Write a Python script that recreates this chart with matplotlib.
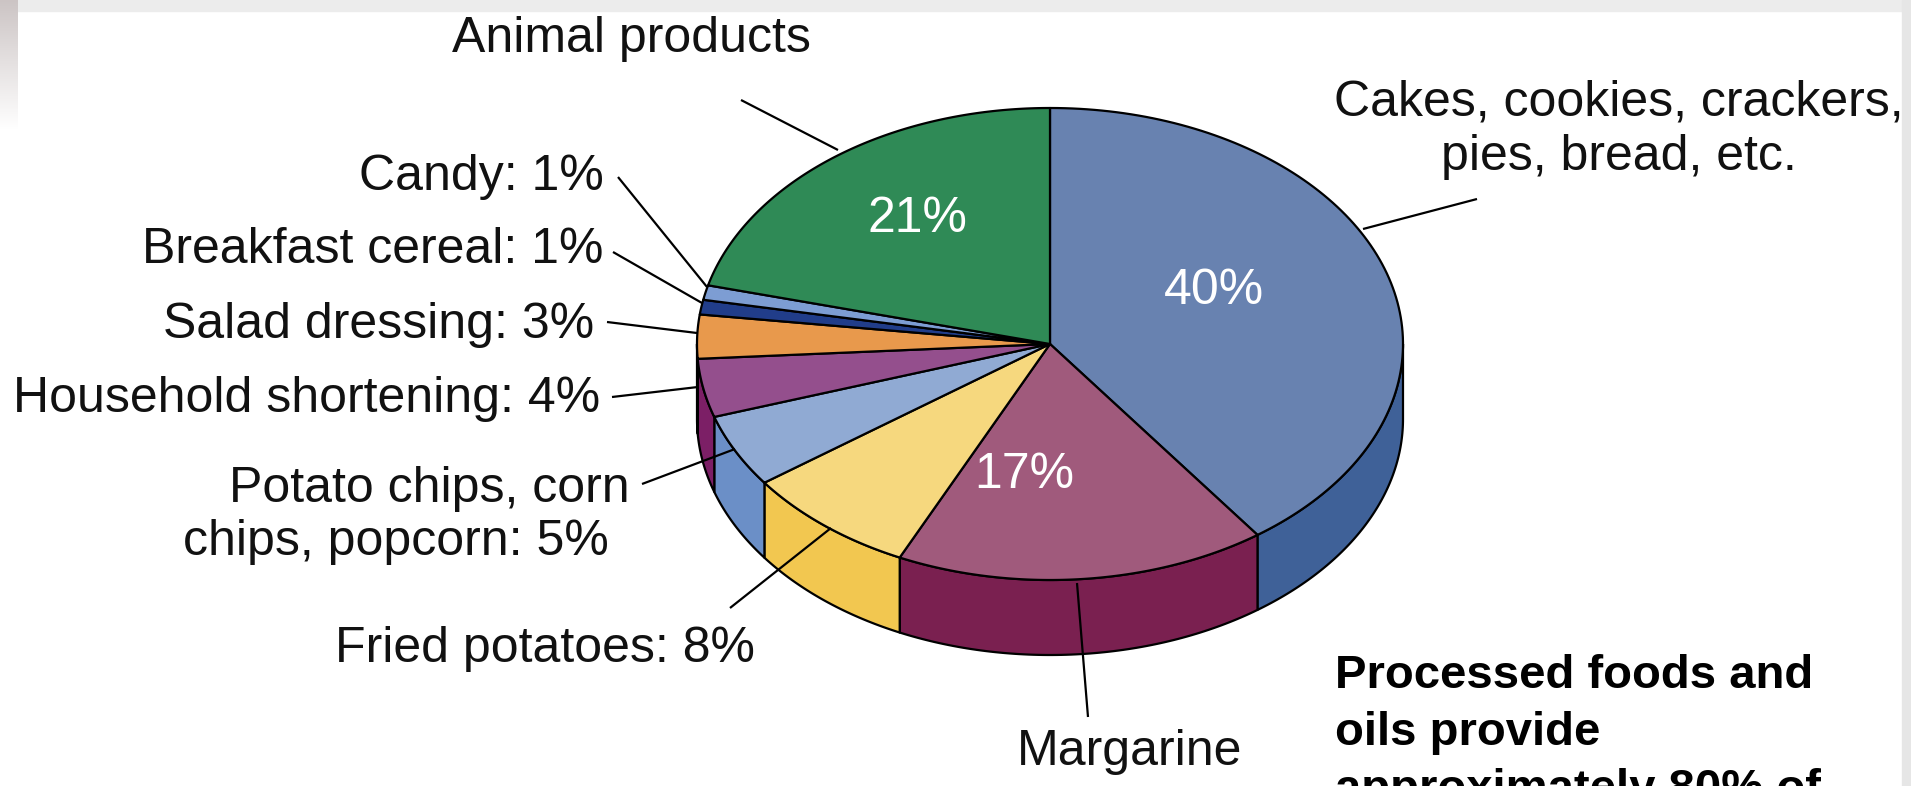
import numpy as np
import matplotlib
matplotlib.use("Agg")
import matplotlib.pyplot as plt
from matplotlib.patches import Polygon, Rectangle

plt.rcParams['font.family'] = ['Liberation Sans', 'DejaVu Sans']

# slices, clockwise from 12 o'clock
labels = ["Cakes, cookies, crackers,\npies, bread, etc.", "Margarine", "Fried potatoes: 8%",
          "Potato chips, corn\nchips, popcorn: 5%", "Household shortening: 4%",
          "Salad dressing: 3%", "Breakfast cereal: 1%", "Candy: 1%", "Animal products"]
values = [40, 17, 8, 5, 4, 3, 1, 1, 21]
top_colors = ["#6882b0", "#a05a7c", "#f6d87e", "#90aad3", "#944f8d",
              "#e8994c", "#213d8a", "#7d9dd3", "#2f8a56"]
side_colors = ["#3f6198", "#7a2050", "#f2c750", "#6b8fc7", "#7c1f66",
               "#cf7a30", "#16296a", "#5a7cb8", "#1f6a40"]
inner_pcts = ["40%", "17%", None, None, None, None, None, None, "21%"]

W, H = 1911, 786
fig = plt.figure(figsize=(W / 100, H / 100), dpi=100)
ax = fig.add_axes([0, 0, 1, 1])
ax.set_xlim(0, W)
ax.set_ylim(H, 0)
ax.axis('off')

# slide frame bits
ax.add_patch(Rectangle((0, 0), W, 11, color="#ececec", zorder=0))
ax.add_patch(Rectangle((W - 9, 0), 9, H, color="#e6e6e6", zorder=0))
grad = np.linspace(0, 1, 100)[:, None]
ax.imshow(np.dstack([0.80 + 0.2 * grad, 0.77 + 0.23 * grad, 0.77 + 0.23 * grad]),
          extent=(0, 18, 130, 0), aspect='auto', zorder=0)

cx, cy, rx, ry, depth = 1050, 344, 353, 236, 75


def pt(theta):
    t = np.radians(theta)
    return cx + rx * np.cos(t), cy - ry * np.sin(t)


angles = 90 - np.concatenate([[0], np.cumsum(values)]) * 3.6

# side walls (front half only)
for i in range(len(values)):
    a0, a1 = angles[i + 1], angles[i]
    lo, hi = max(a0, -180), min(a1, 0)
    if hi <= lo:
        continue
    th = np.linspace(lo, hi, 80)
    xs, ys = pt(th)
    poly = np.vstack([np.column_stack([xs, ys]),
                      np.column_stack([xs[::-1], ys[::-1] + depth])])
    ax.add_patch(Polygon(poly, closed=True, facecolor=side_colors[i],
                         edgecolor="black", lw=1.6, zorder=2, joinstyle='round'))

# top surface
for i in range(len(values)):
    th = np.linspace(angles[i + 1], angles[i], 120)
    xs, ys = pt(th)
    poly = np.vstack([[cx, cy], np.column_stack([xs, ys])])
    ax.add_patch(Polygon(poly, closed=True, facecolor=top_colors[i],
                         edgecolor="black", lw=1.6, zorder=3, joinstyle='round'))

fs = 36
# percentages inside
pct_pos = {0: (1214, 291), 1: (1024, 475), 8: (917, 219)}
for i, (x, y) in pct_pos.items():
    ax.text(x, y, inner_pcts[i], color="white", fontsize=fs, ha='center', va='center', zorder=5)

# outside labels: (text x, baseline y, ha, leader start, leader end)
label_pos = [
    (1619, 115, 'center', (1363, 229), (1477, 199)),
    (1130, 765, 'center', (1077, 583), (1088, 717)),
    (335, 662, 'left', (831, 528), (730, 608)),
    (None, None, None, (735, 449), (642, 484)),
    (600, 412, 'right', (698, 387), (612, 397)),
    (594, 338, 'right', (697, 333), (607, 322)),
    (603, 263, 'right', (702, 303), (613, 252)),
    (604, 190, 'right', (707, 287), (618, 177)),
    (631, 52, 'center', (838, 150), (741, 100)),
]
for i, (x, y, ha, p0, p1) in enumerate(label_pos):
    ax.plot([p0[0], p1[0]], [p0[1], p1[1]], color="black", lw=1.6, zorder=6,
            solid_capstyle='butt')
    if x is None:
        continue
    if i == 0:
        l1, l2 = labels[i].split("\n")
        ax.text(x, y, l1, fontsize=fs, ha='center', va='baseline', color="#111111")
        ax.text(x, y + 55, l2, fontsize=fs, ha='center', va='baseline', color="#111111")
    else:
        ax.text(x, y, labels[i], fontsize=fs, ha=ha, va='baseline', color="#111111")

# potato chips label, two lines
l1, l2 = labels[3].split("\n")
ax.text(630, 502, l1, fontsize=fs, ha='right', va='baseline', color="#111111")
ax.text(609, 555, l2, fontsize=fs, ha='right', va='baseline', color="#111111")

# note at bottom right
note = ["Processed foods and", "oils provide", "approximately 80% of"]
for k, line in enumerate(note):
    ax.text(1335, 688 + 57 * k, line, fontsize=34, fontweight='bold',
            ha='left', va='baseline', color="black")

fig.savefig("out.png", dpi=100)
